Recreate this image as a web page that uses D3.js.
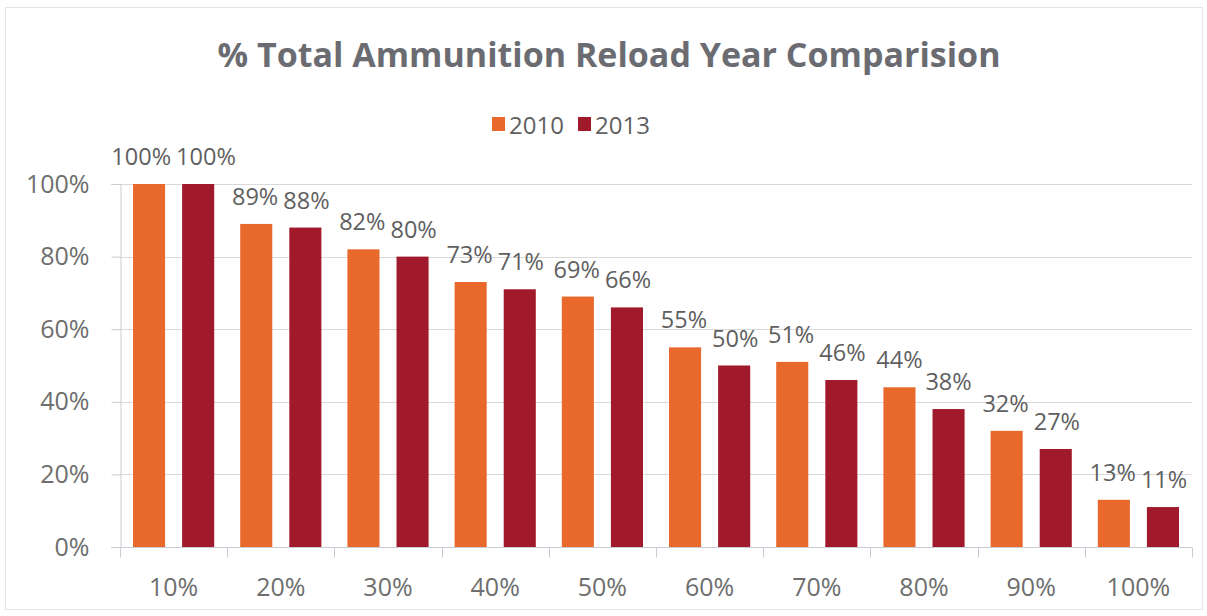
<!DOCTYPE html>
<html>
<head>
<meta charset="utf-8">
<script src="https://cdn.jsdelivr.net/npm/d3@7"></script>
<style>
  html, body { margin: 0; padding: 0; background: #ffffff; }
  svg { display: block; }
  text { font-family: "Open Sans", sans-serif; }
</style>
</head>
<body>
<svg id="chart" width="1207" height="616"></svg>
<script>
// Share of total ammunition reloaded, by reload bracket, for two survey years
const categories = ["10%", "20%", "30%", "40%", "50%", "60%", "70%", "80%", "90%", "100%"];
const seriesNames = ["2010", "2013"];
const values2010 = [100, 89, 82, 73, 69, 55, 51, 44, 32, 13];
const values2013 = [100, 88, 80, 71, 66, 50, 46, 38, 27, 11];
const yTicks = [0, 20, 40, 60, 80, 100];
const seriesColors = ["#E8692B", "#A01A2B"];

const W = 1207, H = 616;
const margin = { left: 120, right: 15, top: 184, bottom: 69 };
const plotRight = W - margin.right;
const plotBottom = H - margin.bottom;

const svg = d3.select("#chart");

// faint frame around the chart area
svg.append("rect")
  .attr("x", 5.5).attr("y", 7.5)
  .attr("width", W - 10).attr("height", H - 14)
  .attr("fill", "none")
  .attr("stroke", "#e4e4e4")
  .attr("stroke-width", 1);

const x = d3.scaleBand()
  .domain(categories)
  .range([margin.left, plotRight])
  .paddingInner(0).paddingOuter(0);

const xInner = d3.scaleBand()
  .domain(seriesNames)
  .range([0, x.bandwidth()])
  .paddingInner(0.347)
  .paddingOuter(0.265);

const y = d3.scaleLinear()
  .domain([0, 100])
  .range([plotBottom, margin.top]);

const color = d3.scaleOrdinal().domain(seriesNames).range(seriesColors);

// horizontal gridlines
svg.append("g")
  .selectAll("line")
  .data(yTicks.filter(d => d > 0))
  .join("line")
  .attr("x1", margin.left).attr("x2", plotRight)
  .attr("y1", d => Math.round(y(d)) + 0.5).attr("y2", d => Math.round(y(d)) + 0.5)
  .attr("stroke", "#d9d9d9")
  .attr("stroke-width", 1);

// y axis
const yAxis = svg.append("g")
  .attr("transform", `translate(${margin.left + 0.5},0)`)
  .call(d3.axisLeft(y).tickValues(yTicks).tickSize(9).tickPadding(22)
    .tickFormat(d => d + "%"));
yAxis.select(".domain").attr("stroke", "#c8ccd4");
yAxis.selectAll(".tick line").attr("stroke", "#c8ccd4");
yAxis.selectAll(".tick text")
  .attr("fill", "#6e6e6e")
  .style("font-size", "25px")
  .style("font-family", "'Open Sans', sans-serif");

// x axis with tick marks on category boundaries
const xg = svg.append("g")
  .attr("transform", `translate(0,${Math.round(plotBottom) + 0.5})`);
xg.append("line")
  .attr("x1", margin.left - 9).attr("x2", plotRight)
  .attr("stroke", "#c8ccd4");
const boundaries = categories.map(c => x(c)).concat([x(categories[categories.length - 1]) + x.bandwidth()]);
xg.selectAll("line.tick")
  .data(boundaries)
  .join("line")
  .attr("class", "tick")
  .attr("x1", d => Math.round(d) + 0.5).attr("x2", d => Math.round(d) + 0.5)
  .attr("y1", 0).attr("y2", 10)
  .attr("stroke", "#c8ccd4");
xg.selectAll("text")
  .data(categories)
  .join("text")
  .attr("x", d => x(d) + x.bandwidth() / 2)
  .attr("y", 48)
  .attr("text-anchor", "middle")
  .attr("fill", "#6e6e6e")
  .style("font-size", "25px")
  .text(d => d);

// bars
const rows = categories.map((c, i) => ({
  category: c,
  items: [
    { series: seriesNames[0], value: values2010[i] },
    { series: seriesNames[1], value: values2013[i] }
  ]
}));

const groups = svg.append("g")
  .selectAll("g")
  .data(rows)
  .join("g")
  .attr("transform", d => `translate(${x(d.category)},0)`);

groups.selectAll("rect")
  .data(d => d.items)
  .join("rect")
  .attr("x", d => xInner(d.series))
  .attr("y", d => y(d.value))
  .attr("width", xInner.bandwidth())
  .attr("height", d => y(0) - y(d.value))
  .attr("fill", d => color(d.series));

// value labels, centred over each bar
groups.each(function () {
  const labels = d3.select(this).selectAll("text")
    .data(d => d.items)
    .join("text")
    .attr("x", d => xInner(d.series) + xInner.bandwidth() / 2)
    .attr("y", d => y(d.value) - 19)
    .attr("text-anchor", "middle")
    .attr("fill", "#5f5f5f")
    .style("font-size", "23.5px")
    .text(d => d.value + "%");

  // nudge a pair apart when the two labels sit at the same height and collide
  const nodes = labels.nodes();
  const [a, b] = nodes;
  const ya = +a.getAttribute("y"), yb = +b.getAttribute("y");
  if (Math.abs(ya - yb) < 20) {
    const wa = a.getComputedTextLength(), wb = b.getComputedTextLength();
    const xa = +a.getAttribute("x"), xb = +b.getAttribute("x");
    const gap = (xb - wb / 2) - (xa + wa / 2);
    const minGap = 5;
    if (gap < minGap) {
      const shift = (minGap - gap) / 2;
      a.setAttribute("x", xa - shift);
      b.setAttribute("x", xb + shift);
    }
  }
});

// title
svg.append("text")
  .attr("x", 609)
  .attr("y", 67)
  .attr("text-anchor", "middle")
  .attr("fill", "#6b6c72")
  .style("font-size", "34px")
  .style("font-weight", "700")
  .style("font-family", "'Open Sans', sans-serif")
  .text("% Total Ammunition Reload Year Comparision");

// legend
const legend = svg.append("g").attr("transform", "translate(492,117)");
const legendItems = legend.selectAll("g")
  .data(seriesNames)
  .join("g")
  .attr("transform", (d, i) => `translate(${i * 86},0)`);
legendItems.append("rect")
  .attr("width", 13).attr("height", 14)
  .attr("fill", d => color(d));
legendItems.append("text")
  .attr("x", 17).attr("y", 17)
  .attr("fill", "#5f5f5f")
  .style("font-size", "24px")
  .text(d => d);
</script>
</body>
</html>
